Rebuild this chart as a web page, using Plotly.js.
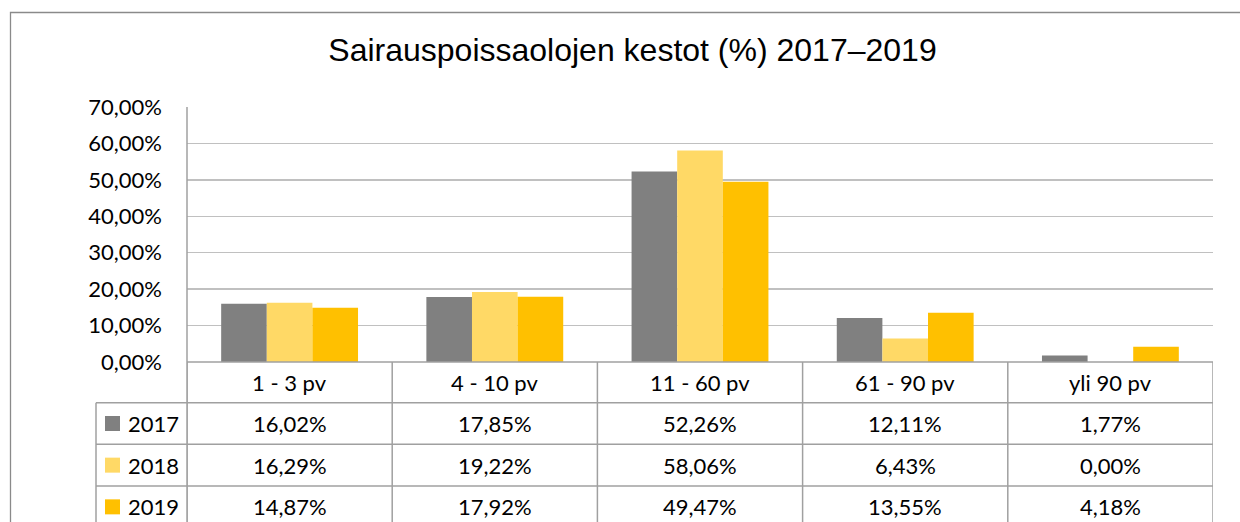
<!DOCTYPE html>
<html><head><meta charset="utf-8">
<script src="https://cdn.plot.ly/plotly-3.0.1.min.js"></script>
<style>html,body{margin:0;padding:0;background:#fff}#chart{width:1240px;height:522px}</style>
</head><body><div id="chart"></div>
<script>
// ---- data ----
const categories = ['1 - 3 pv', '4 - 10 pv', '11 - 60 pv', '61 - 90 pv', 'yli 90 pv'];
const seriesNames = ['2017', '2018', '2019'];
const values2017 = [16.02, 17.85, 52.26, 12.11, 1.77];
const values2018 = [16.29, 19.22, 58.06, 6.43, 0.00];
const values2019 = [14.87, 17.92, 49.47, 13.55, 4.18];
const yTickValues = [0, 10, 20, 30, 40, 50, 60, 70];
const titleText = 'Sairauspoissaolojen kestot (%) 2017–2019';

// ---- style ----
const seriesColors = ['#808080', '#FFD966', '#FFC000'];
const W = 1240, H = 522;
const L = 187, R = 1213, T = 107, B = 362;
const rowEdges = [362, 402.7, 444.3, 486, 527.7];
const legendLeft = 96;
const tableFont = {family: 'Lato, "Noto Sans", sans-serif', size: 22, color: '#000'};
const lineColor = '#a0a0a0';

const xp = px => (px - L) / (R - L);
const yp = py => (B - py) / (B - T);
const fmt = v => v.toFixed(2).replace('.', ',') + '%';

const allSeries = [values2017, values2018, values2019];
const traces = allSeries.map((vals, i) => ({
  type: 'bar', x: categories, y: vals, name: seriesNames[i],
  marker: {color: seriesColors[i], line: {width: 0}},
  hoverinfo: 'skip'
}));

const shapes = [];
const annotations = [];
// outer chart border
shapes.push({type: 'rect', xref: 'paper', yref: 'paper', x0: xp(10.5), x1: xp(1260), y0: yp(12.5), y1: yp(540),
  line: {color: '#8a8a8a', width: 1.3}, fillcolor: 'rgba(0,0,0,0)', layer: 'below'});
// vertical axis line
shapes.push({type: 'line', xref: 'paper', yref: 'paper', x0: 0, x1: 0, y0: 1, y1: yp(540), line: {color: lineColor, width: 1.5}});
// column boundaries in table
for (let k = 0; k <= categories.length; k++) {
  shapes.push({type: 'line', xref: 'x', yref: 'paper', x0: k - 0.5, x1: k - 0.5, y0: 0, y1: yp(540), line: {color: lineColor, width: 1.5}});
}
// horizontal table lines
shapes.push({type: 'line', xref: 'paper', yref: 'paper', x0: 0, x1: 1, y0: 0, y1: 0, line: {color: lineColor, width: 1.5}});
for (let r = 1; r < rowEdges.length - 1; r++) {
  shapes.push({type: 'line', xref: 'paper', yref: 'paper', x0: xp(legendLeft), x1: 1, y0: yp(rowEdges[r]), y1: yp(rowEdges[r]), line: {color: lineColor, width: 1.5}});
}
// legend column left edge
shapes.push({type: 'line', xref: 'paper', yref: 'paper', x0: xp(legendLeft), x1: xp(legendLeft), y0: yp(rowEdges[1]), y1: yp(540), line: {color: lineColor, width: 1.5}});

// header row: category labels
categories.forEach(c => {
  annotations.push({xref: 'x', yref: 'paper', x: c, y: yp((rowEdges[0] + rowEdges[1]) / 2), text: c,
    showarrow: false, xanchor: 'center', yanchor: 'middle', font: tableFont});
});
// data rows
allSeries.forEach((vals, i) => {
  const cy = (rowEdges[i + 1] + rowEdges[i + 2]) / 2;
  vals.forEach((v, j) => {
    annotations.push({xref: 'x', yref: 'paper', x: categories[j], y: yp(cy), text: fmt(v),
      showarrow: false, xanchor: 'center', yanchor: 'middle', font: tableFont});
  });
  // legend key
  shapes.push({type: 'rect', xref: 'paper', yref: 'paper', x0: xp(105), x1: xp(120), y0: yp(cy - 7.5), y1: yp(cy + 7.5),
    line: {width: 0}, fillcolor: seriesColors[i]});
  annotations.push({xref: 'paper', yref: 'paper', x: xp(126), y: yp(cy), text: seriesNames[i],
    showarrow: false, xanchor: 'left', yanchor: 'middle', font: tableFont});
});

const layout = {
  width: W, height: H,
  margin: {l: L, r: W - R, t: T, b: H - B, pad: 0},
  paper_bgcolor: '#fff', plot_bgcolor: '#fff',
  showlegend: false,
  barmode: 'group', bargap: 0.333, bargroupgap: 0,
  title: {text: titleText, x: 632.5 / W, xanchor: 'center', xref: 'container', yref: 'container',
    y: 1 - 50 / H, yanchor: 'middle', font: {family: '"Liberation Sans", Arial, sans-serif', size: 32, color: '#000'}},
  xaxis: {range: [-0.5, categories.length - 0.5], showticklabels: false, showgrid: false, zeroline: false,
    showline: false, ticks: '', fixedrange: true},
  yaxis: {range: [0, 70], tickvals: yTickValues, ticktext: yTickValues.map(fmt), showgrid: true,
    gridcolor: '#c0c0c0', gridwidth: 1.3, zeroline: false, showline: false, ticks: '', ticklabelstandoff: 24,
    tickfont: tableFont, fixedrange: true},
  shapes: shapes,
  annotations: annotations
};

Plotly.newPlot('chart', traces, layout, {displayModeBar: false, staticPlot: true});
</script>
</body></html>
